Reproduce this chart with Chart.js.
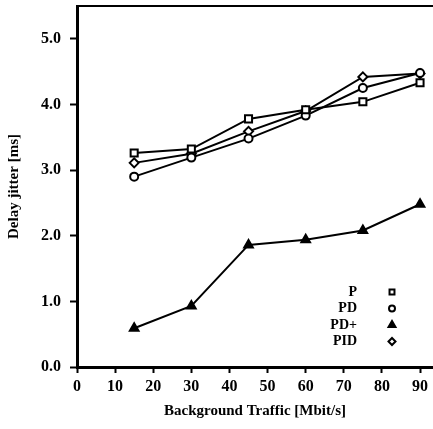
<!DOCTYPE html>
<html>
<head>
<meta charset="utf-8">
<script src="https://cdn.jsdelivr.net/npm/chart.js@4"></script>
<style>
  body { margin: 0; background: #fff; overflow: hidden; }
  canvas { display: block; }
</style>
</head>
<body>
<canvas id="myChart" width="433" height="429"></canvas>
<script>
// data
var traffic = [15, 30, 45, 60, 75, 90]
var pVals = [3.26, 3.32, 3.78, 3.92, 4.04, 4.33]
var pdVals = [2.90, 3.19, 3.48, 3.83, 4.25, 4.48]
var pdPlusVals = [0.59, 0.93, 1.86, 1.94, 2.08, 2.48]
var pidVals = [3.11, 3.25, 3.59, 3.90, 4.42, 4.47]
var seriesNames = ['P', 'PD', 'PD+', 'PID']
var xTicks = [0, 10, 20, 30, 40, 50, 60, 70, 80, 90]
var yTicks = [0, 1, 2, 3, 4, 5]

var serif = "'Liberation Serif', 'Times New Roman', serif"

function pts(vals) {
    return traffic.map(function (x, i) { return { x: x, y: vals[i] } })
}

// marker for each series: style, radius, filled?
var markers = [
    { style: 'rect', r: 5, filled: false, lr: 3.5 },
    { style: 'circle', r: 4, filled: false, lr: 3 },
    { style: 'triangle', r: 5, filled: true, lr: 4 },
    { style: 'rectRot', r: 4.5, filled: false, lr: 3.5 }
]

var allVals = [pVals, pdVals, pdPlusVals, pidVals]
var datasets = allVals.map(function (vals, i) {
    var m = markers[i]
    return {
        label: seriesNames[i],
        data: pts(vals),
        showLine: true,
        borderColor: '#000',
        borderWidth: 2,
        pointStyle: m.style,
        pointRadius: m.r,
        pointBorderWidth: 2,
        pointBorderColor: '#000',
        pointBackgroundColor: m.filled ? '#000' : '#fff',
        tension: 0
    }
})

// top frame line + legend (text left, marker right)
var framePlugin = {
    id: 'frame',
    afterDraw: function (chart) {
        var ctx = chart.ctx
        var a = chart.chartArea
        ctx.save()
        ctx.strokeStyle = '#000'
        ctx.lineWidth = 2
        ctx.beginPath()
        ctx.moveTo(a.left, a.top)
        ctx.lineTo(a.right, a.top)
        ctx.stroke()

        var textRight = a.right - 76
        var markX = a.right - 41
        var y0 = a.bottom - 75
        ctx.font = 'bold 14px ' + serif
        ctx.textAlign = 'right'
        ctx.textBaseline = 'middle'
        seriesNames.forEach(function (name, i) {
            var y = y0 + i * 16.5
            ctx.fillStyle = '#000'
            ctx.fillText(name, textRight, y)
            var m = markers[i]
            ctx.fillStyle = m.filled ? '#000' : '#fff'
            ctx.strokeStyle = '#000'
            ctx.lineWidth = 2
            Chart.helpers.drawPoint(ctx, { pointStyle: m.style, radius: m.lr, rotation: 0, borderWidth: 2 }, markX, y)
        })
        ctx.restore()
    }
}

const ctx = document.getElementById('myChart').getContext('2d');
const myChart = new Chart(ctx, {
    type: 'scatter',
    data: { datasets: datasets },
    options: {
        responsive: false,
        animation: false,
        layout: { autoPadding: false, padding: { top: 6, right: 0, left: 0, bottom: 0 } },
        plugins: { legend: { display: false }, tooltip: { enabled: false } },
        scales: {
            x: {
                type: 'linear',
                min: 0,
                max: 93.4,
                afterBuildTicks: function (s) { s.ticks = xTicks.map(function (v) { return { value: v } }) },
                afterFit: function (s) { s.height = 62; s.paddingLeft = 0; s.paddingRight = 0 },
                ticks: {
                    color: '#000',
                    padding: 4,
                    maxRotation: 0,
                    font: { family: serif, size: 16, weight: 'bold' }
                },
                grid: { drawOnChartArea: false, drawTicks: true, tickLength: 6, tickWidth: 2, tickColor: '#000' },
                border: { color: '#000', width: 3 },
                title: {
                    display: true,
                    text: 'Background Traffic [Mbit/s]',
                    color: '#000',
                    padding: { top: 0, bottom: 9 },
                    font: { family: serif, size: 15, weight: 'bold' }
                }
            },
            y: {
                min: 0,
                max: 5.5,
                afterBuildTicks: function (s) { s.ticks = yTicks.map(function (v) { return { value: v } }) },
                afterFit: function (s) { s.width = 77; s.paddingTop = 0; s.paddingBottom = 0 },
                ticks: {
                    color: '#000',
                    padding: 9,
                    callback: function (v) { return v.toFixed(1) },
                    font: { family: serif, size: 16, weight: 'bold' }
                },
                grid: { drawOnChartArea: false, drawTicks: true, tickLength: 7, tickWidth: 2, tickColor: '#000' },
                border: { color: '#000', width: 3 },
                title: {
                    display: true,
                    text: 'Delay jitter [ms]',
                    color: '#000',
                    padding: { top: 5, bottom: 0 },
                    font: { family: serif, size: 15, weight: 'bold' }
                }
            }
        }
    },
    plugins: [framePlugin]
});
</script>
</body>
</html>
